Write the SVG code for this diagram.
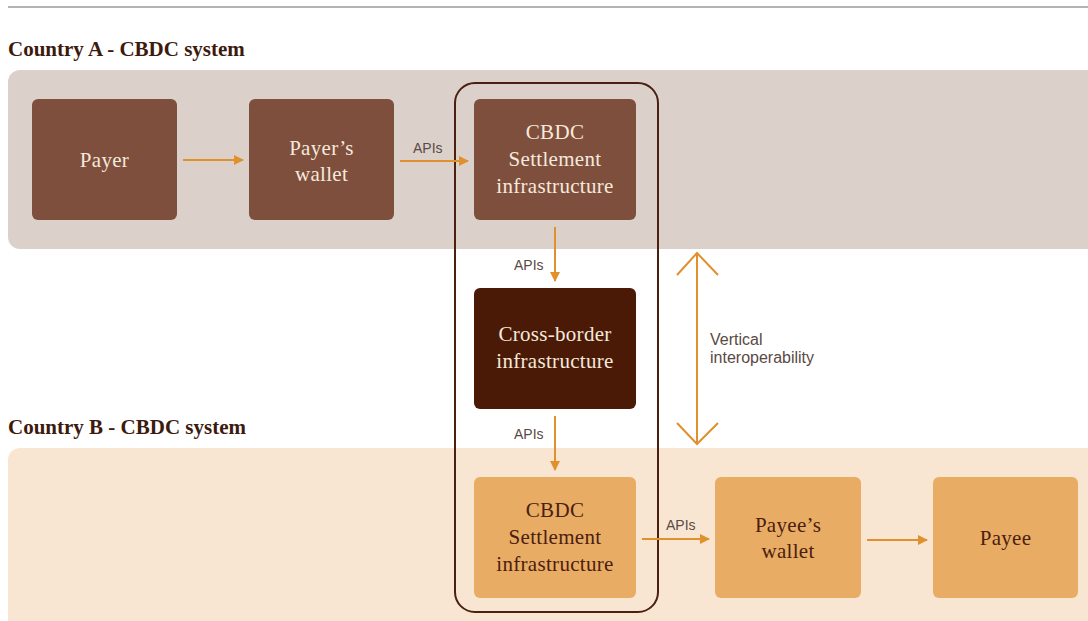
<svg xmlns="http://www.w3.org/2000/svg" width="1088" height="621" viewBox="0 0 1088 621">
<defs>
<marker id="ah" viewBox="0 0 10 10" refX="9" refY="5" markerWidth="10" markerHeight="10" markerUnits="userSpaceOnUse" orient="auto">
<path d="M0,0 L10,5 L0,10 Z" fill="#e0902c"/>
</marker>
<style>
.title{font-family:"Liberation Serif",serif;font-weight:bold;font-size:21px;fill:#3d1a0e}
.nt{font-family:"Liberation Serif",serif;font-size:21px;text-anchor:middle;letter-spacing:0.3px}
.light{fill:#f6e9dc}
.dark{fill:#4a2010}
.api{font-family:"Liberation Sans",sans-serif;font-size:14px;fill:#5a4a44}
.lbl{font-family:"Liberation Sans",sans-serif;font-size:16px;fill:#5a4a44}
.c{stroke:#e0902c;stroke-width:2;fill:none}
</style>
</defs>
<rect width="1088" height="621" fill="#ffffff"/>
<line x1="8" y1="7" x2="1088" y2="7" stroke="#9a9a9a" stroke-width="1.5"/>
<text class="title" x="8" y="56">Country A - CBDC system</text>
<rect x="8" y="70" width="1100" height="179" rx="12" fill="#dcd0cb"/>
<text class="title" x="8" y="434">Country B - CBDC system</text>
<rect x="8" y="448" width="1100" height="190" rx="12" fill="#f8e6d3"/>
<rect id="scope" x="455" y="83" width="203" height="529" rx="20" fill="none" stroke="#4a2010" stroke-width="2"/>
<g id="payer"><rect x="32" y="99" width="145" height="121" rx="6" fill="#7e4f3c"/><text class="nt light" x="104.5" y="167">Payer</text></g>
<g id="payer-wallet"><rect x="249" y="99" width="145" height="121" rx="6" fill="#7e4f3c"/><text class="nt light" x="321.5" y="155">Payer’s</text><text class="nt light" x="321.5" y="181">wallet</text></g>
<g id="cbdc-a"><rect x="474" y="99" width="162" height="121" rx="6" fill="#7e4f3c"/><text class="nt light" x="555" y="139">CBDC</text><text class="nt light" x="555" y="166">Settlement</text><text class="nt light" x="555" y="193">infrastructure</text></g>
<g id="cross-border"><rect x="474" y="288" width="162" height="121" rx="6" fill="#4a1a06"/><text class="nt light" x="555" y="341">Cross-border</text><text class="nt light" x="555" y="368">infrastructure</text></g>
<g id="cbdc-b"><rect x="474" y="477" width="162" height="121" rx="6" fill="#e9ac64"/><text class="nt dark" x="555" y="517">CBDC</text><text class="nt dark" x="555" y="544">Settlement</text><text class="nt dark" x="555" y="571">infrastructure</text></g>
<g id="payee-wallet"><rect x="715" y="477" width="146" height="121" rx="6" fill="#e9ac64"/><text class="nt dark" x="788" y="532">Payee’s</text><text class="nt dark" x="788" y="558">wallet</text></g>
<g id="payee"><rect x="933" y="477" width="145" height="121" rx="6" fill="#e9ac64"/><text class="nt dark" x="1005.5" y="545">Payee</text></g>
<g id="connectors">
<line class="c" x1="183" y1="160" x2="243" y2="160" marker-end="url(#ah)"/>
<line class="c" x1="400" y1="161" x2="468" y2="161" marker-end="url(#ah)"/>
<text class="api" x="413" y="153">APIs</text>
<line class="c" x1="555" y1="227" x2="555" y2="281" marker-end="url(#ah)"/>
<text class="api" x="514" y="270">APIs</text>
<line class="c" x1="555" y1="416" x2="555" y2="470" marker-end="url(#ah)"/>
<text class="api" x="514" y="439">APIs</text>
<line class="c" x1="642" y1="539" x2="709" y2="539" marker-end="url(#ah)"/>
<text class="api" x="666" y="530">APIs</text>
<line class="c" x1="867" y1="540" x2="927" y2="540" marker-end="url(#ah)"/>
<line class="c" x1="697" y1="253" x2="697" y2="444"/>
<polyline class="c" points="677,275 697,253 718,275"/>
<polyline class="c" points="677,423 697,444 718,423"/>
<text class="lbl" x="710" y="345">Vertical</text>
<text class="lbl" x="710" y="363">interoperability</text>
</g>
</svg>
